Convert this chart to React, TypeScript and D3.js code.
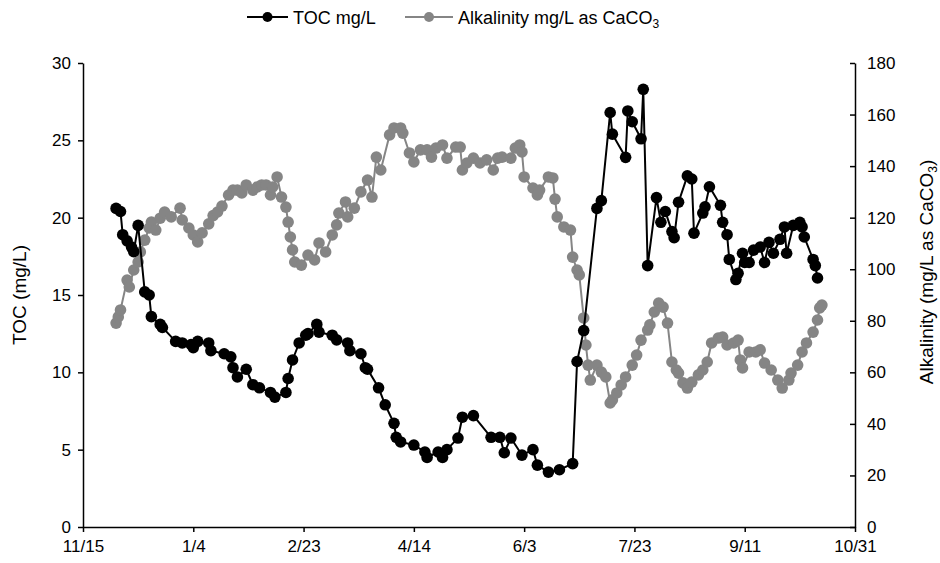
import React, { useEffect, useRef } from 'react';
import * as d3 from 'd3';

// days since 11/15
const tocDays = [15, 17, 18, 20, 22, 23, 25, 28, 30, 31, 35, 36, 42, 45, 49, 50, 52, 57, 58, 64, 67, 68, 70, 74, 77, 80, 85, 87, 92, 93, 95, 98, 101, 102, 106, 107, 113, 115, 120, 121, 126, 128, 129, 134, 137, 141, 142, 144, 150, 155, 156, 161, 163, 165, 170, 172, 177, 185, 189, 191, 194, 199, 204, 206, 211, 216, 222, 224, 227, 233, 235, 239, 240, 246, 247, 249, 253, 254, 256, 260, 262, 264, 267, 268, 270, 274, 276, 277, 281, 282, 284, 289, 290, 292, 293, 296, 297, 299, 300, 302, 304, 307, 309, 311, 313, 316, 318, 319, 322, 325, 326, 327, 331, 332, 333];
const tocValues = [20.6, 20.4, 18.9, 18.5, 18.1, 17.8, 19.5, 15.2, 15.0, 13.6, 13.1, 12.9, 12.0, 11.9, 11.8, 11.6, 12.0, 11.9, 11.4, 11.2, 11.0, 10.3, 9.7, 10.2, 9.2, 9.0, 8.7, 8.4, 8.7, 9.6, 10.8, 11.9, 12.4, 12.5, 13.1, 12.6, 12.4, 12.1, 11.9, 11.4, 11.2, 10.3, 10.2, 9.0, 7.9, 6.7, 5.8, 5.5, 5.3, 4.85, 4.5, 4.85, 4.5, 5.0, 5.75, 7.1, 7.2, 5.8, 5.8, 4.8, 5.75, 4.65, 5.0, 4.0, 3.55, 3.7, 4.1, 10.7, 12.7, 20.6, 21.1, 26.8, 25.4, 23.9, 26.9, 26.2, 25.1, 28.3, 16.9, 21.3, 19.7, 20.4, 19.1, 18.7, 21.0, 22.7, 22.5, 19.0, 20.3, 20.7, 22.0, 20.8, 19.7, 18.9, 17.3, 16.0, 16.4, 17.7, 17.1, 17.1, 17.9, 18.1, 17.1, 18.4, 17.7, 18.6, 19.4, 17.7, 19.5, 19.7, 19.4, 18.75, 17.3, 16.9, 16.1];

const alkDays = [15, 16, 17, 20, 21, 23, 25, 26, 28, 30, 31, 33, 35, 37, 40, 44, 45, 48, 50, 52, 54, 57, 59, 61, 63, 66, 68, 70, 72, 74, 77, 79, 81, 83, 85, 86, 88, 90, 92, 93, 94, 95, 96, 99, 102, 105, 107, 110, 113, 115, 116, 119, 120, 123, 126, 129, 131, 133, 135, 139, 141, 144, 145, 148, 150, 153, 156, 158, 160, 163, 165, 169, 171, 172, 174, 177, 180, 183, 186, 188, 190, 194, 196, 198, 199, 200, 204, 206, 207, 211, 213, 214, 215, 218, 221, 222, 224, 225, 227, 228, 229, 230, 233, 235, 237, 239, 240, 242, 244, 246, 249, 251, 253, 256, 257, 259, 261, 263, 265, 267, 269, 270, 272, 274, 276, 279, 281, 283, 285, 288, 290, 292, 295, 297, 298, 299, 302, 305, 307, 309, 312, 315, 317, 320, 321, 324, 326, 328, 331, 333, 334, 335];
const alkValues = [79.1, 81.5, 84.2, 95.8, 93.1, 99.7, 102.8, 106.7, 111.3, 116.0, 118.3, 115.2, 119.8, 122.2, 120.3, 123.7, 119.1, 116.0, 113.3, 110.6, 114.1, 117.6, 120.8, 122.2, 124.5, 128.8, 130.7, 130.7, 129.6, 132.7, 130.7, 131.9, 132.7, 132.7, 128.8, 131.9, 135.8, 128.0, 124.1, 118.3, 112.5, 107.5, 102.8, 101.6, 105.5, 103.6, 110.2, 106.7, 113.3, 117.2, 121.8, 126.1, 120.3, 123.7, 130.0, 134.6, 128.0, 143.5, 138.5, 152.1, 154.8, 154.8, 152.8, 145.1, 141.6, 146.3, 146.3, 143.5, 147.0, 148.2, 143.1, 147.4, 147.4, 138.5, 141.2, 143.1, 141.2, 142.4, 138.5, 143.1, 143.5, 143.1, 147.0, 148.2, 145.5, 135.8, 131.5, 128.8, 130.7, 135.8, 135.4, 127.2, 120.3, 116.4, 115.2, 104.7, 99.7, 97.8, 81.1, 70.6, 62.8, 57.0, 62.8, 60.1, 58.2, 48.1, 49.3, 52.0, 55.1, 58.2, 62.8, 66.7, 72.5, 76.4, 78.4, 83.4, 86.9, 85.3, 79.1, 64.0, 60.9, 59.7, 55.9, 53.9, 56.2, 59.0, 60.9, 64.0, 71.4, 73.3, 73.7, 70.6, 71.4, 72.5, 64.8, 61.7, 67.9, 67.9, 68.7, 63.6, 60.9, 57.0, 53.9, 57.0, 59.7, 62.8, 67.9, 71.4, 75.6, 80.3, 85.0, 86.1];

const xTickLabels = ['11/15', '1/4', '2/23', '4/14', '6/3', '7/23', '9/11', '10/31'];
const tocTicks = [0, 5, 10, 15, 20, 25, 30];
const alkTicks = [0, 20, 40, 60, 80, 100, 120, 140, 160, 180];

const W = 940;
const H = 563;
const FONT = '"Liberation Sans", Arial, sans-serif';
const GRAY = '#858585';

const App = () => {
  const ref = useRef<SVGSVGElement>(null);

  useEffect(() => {
    if (!ref.current) return;
    const svg = d3.select(ref.current);
    svg.selectAll('*').remove();

    const margin = { top: 63, right: 85, bottom: 36, left: 83 };
    const x = d3.scaleLinear().domain([0, 350]).range([margin.left, W - margin.right]);
    const yL = d3.scaleLinear().domain([0, 30]).range([H - margin.bottom, margin.top]);
    const yR = d3.scaleLinear().domain([0, 180]).range([H - margin.bottom, margin.top]);

    // x axis
    const xAxis = d3.axisBottom(x)
      .tickValues(xTickLabels.map((_, i) => i * 50))
      .tickFormat((_, i) => xTickLabels[i])
      .tickSize(5)
      .tickSizeOuter(0);
    const gx = svg.append('g').attr('transform', `translate(0,${yL(0)})`).call(xAxis);

    const gl = svg.append('g').attr('transform', `translate(${margin.left},0)`)
      .call(d3.axisLeft(yL).tickValues(tocTicks).tickSize(5).tickSizeOuter(0));
    const gr = svg.append('g').attr('transform', `translate(${W - margin.right},0)`)
      .call(d3.axisRight(yR).tickValues(alkTicks).tickSize(-5).tickSizeOuter(0));

    [gx, gl, gr].forEach(g => {
      g.select('.domain').attr('stroke', '#000').attr('stroke-width', 1.5);
      g.selectAll('.tick line').attr('stroke', '#000').attr('stroke-width', 1.5);
      g.selectAll('.tick text').attr('font-family', FONT).attr('font-size', 17).attr('fill', '#000');
    });
    gx.selectAll('.tick text').attr('y', 10).attr('dy', '0.9em');
    gl.selectAll('.tick text').attr('x', -12);
    gr.selectAll('.tick text').attr('x', 12);

    // series
    const drawSeries = (days: number[], vals: number[], y: d3.ScaleLinear<number, number>, color: string) => {
      const pts = days.map((d, i) => [x(d), y(vals[i])] as [number, number]);
      svg.append('path')
        .attr('d', d3.line()(pts))
        .attr('fill', 'none')
        .attr('stroke', color)
        .attr('stroke-width', 2);
      svg.append('g').selectAll('circle').data(pts).enter().append('circle')
        .attr('cx', p => p[0]).attr('cy', p => p[1]).attr('r', 5.8).attr('fill', color);
    };
    drawSeries(alkDays, alkValues, yR, GRAY);
    drawSeries(tocDays, tocValues, yL, '#000');

    // axis titles
    svg.append('text')
      .attr('transform', `translate(26,${(yL(0) + yL(30)) / 2}) rotate(-90)`)
      .attr('text-anchor', 'middle').attr('font-family', FONT).attr('font-size', 19)
      .text('TOC (mg/L)');
    const rt = svg.append('text')
      .attr('transform', `translate(933,272) rotate(-90)`)
      .attr('text-anchor', 'middle').attr('font-family', FONT).attr('font-size', 19);
    rt.append('tspan').text('Alkalinity (mg/L as CaCO');
    rt.append('tspan').attr('font-size', 12).attr('dy', 4).text('3');
    rt.append('tspan').attr('dy', -4).text(')');

    // legend
    const lg = svg.append('g').attr('font-family', FONT).attr('font-size', 18);
    const items = [
      { label: 'TOC mg/L', color: '#000', x0: 247, len: 41 },
      { label: 'Alkalinity mg/L as CaCO', color: GRAY, x0: 405, len: 48 },
    ];
    items.forEach(it => {
      lg.append('line').attr('x1', it.x0).attr('x2', it.x0 + it.len).attr('y1', 17).attr('y2', 17)
        .attr('stroke', it.color).attr('stroke-width', 2);
      lg.append('circle').attr('cx', it.x0 + it.len / 2).attr('cy', 17).attr('r', 5).attr('fill', it.color);
      const t = lg.append('text').attr('x', it.x0 + it.len + 5).attr('y', 24).text(it.label);
      if (it.color === GRAY) t.append('tspan').attr('font-size', 12).attr('dy', 4).text('3');
    });
  }, []);

  return <svg ref={ref} width={W} height={H} style={{ position: 'absolute', left: 0, top: 0, background: '#fff' }} />;
};

export default App;
